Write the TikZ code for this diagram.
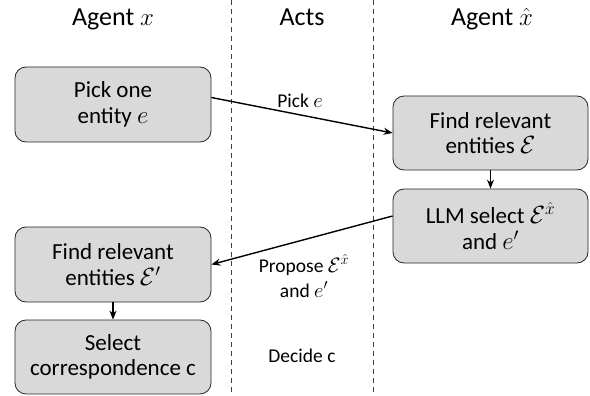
\documentclass[tikz,border=0pt]{standalone}
\usepackage{fontspec}
\setmainfont{Carlito}
\usetikzlibrary{arrows.meta}
\begin{document}
\begin{tikzpicture}[x=1pt,y=-1pt,
  box/.style={draw=black!85,line width=0.8pt,fill=black!15,rounded corners=11pt,align=center,
    font=\fontsize{23}{25.5}\selectfont,inner sep=0pt},
  hdr/.style={font=\fontsize{26}{30}\selectfont,anchor=base},
  lbl/.style={font=\fontsize{19.5}{25}\selectfont,align=center},
  lane/.style={dashed,draw=black!75,line width=0.9pt,dash pattern=on 5pt off 4pt},
  conn/.style={-{Stealth[length=9pt,width=7pt]},line width=1.4pt}]
\useasboundingbox (0,0) rectangle (590,396);
\coordinate (l1t) at (231,0); \coordinate (l1b) at (231,396);
\coordinate (l2t) at (373,0); \coordinate (l2b) at (373,396);
\draw[lane] (l1t) -- (l1b);
\draw[lane] (l2t) -- (l2b);
\node[hdr] (h1) at (113,26) {Agent $x$};
\node[hdr] (h2) at (302,26) {Acts};
\node[hdr] (h3) at (492,26) {Agent $\hat{x}$};
\node[box,minimum width=196pt,minimum height=75pt] (a1) at (113,104.5) {Pick one\\entity $e$};
\node[box,minimum width=195pt,minimum height=74pt] (b1) at (490.5,133) {Find relevant\\entities $\mathcal{E}$};
\node[box,minimum width=195pt,minimum height=74pt] (b2) at (490.5,226) {LLM select $\mathcal{E}^{\hat{x}}$\\and $e'$};
\node[box,minimum width=196pt,minimum height=75pt] (a2) at (113,264.5) {Find relevant\\entities $\mathcal{E}'$};
\node[box,minimum width=196pt,minimum height=74pt] (a3) at (113,357) {Select\\correspondence c};
\draw[conn] (a1.east) ++(0,-7) coordinate (s1) -- (b1.west);
\draw[conn] (b2.west) ++(0,-10) coordinate (s2) -- (a2.east);
\draw[conn] (b1.south) -- (b2.north);
\draw[conn] (a2.south) -- (a3.north);
\node[lbl] (p1) at (300,101) {Pick $e$};
\node[lbl] (p2) at (304,276) {Propose $\mathcal{E}^{\hat{x}}$\\and $e'$};
\node[lbl] (p3) at (302,356) {Decide c};
\end{tikzpicture}
\end{document}
